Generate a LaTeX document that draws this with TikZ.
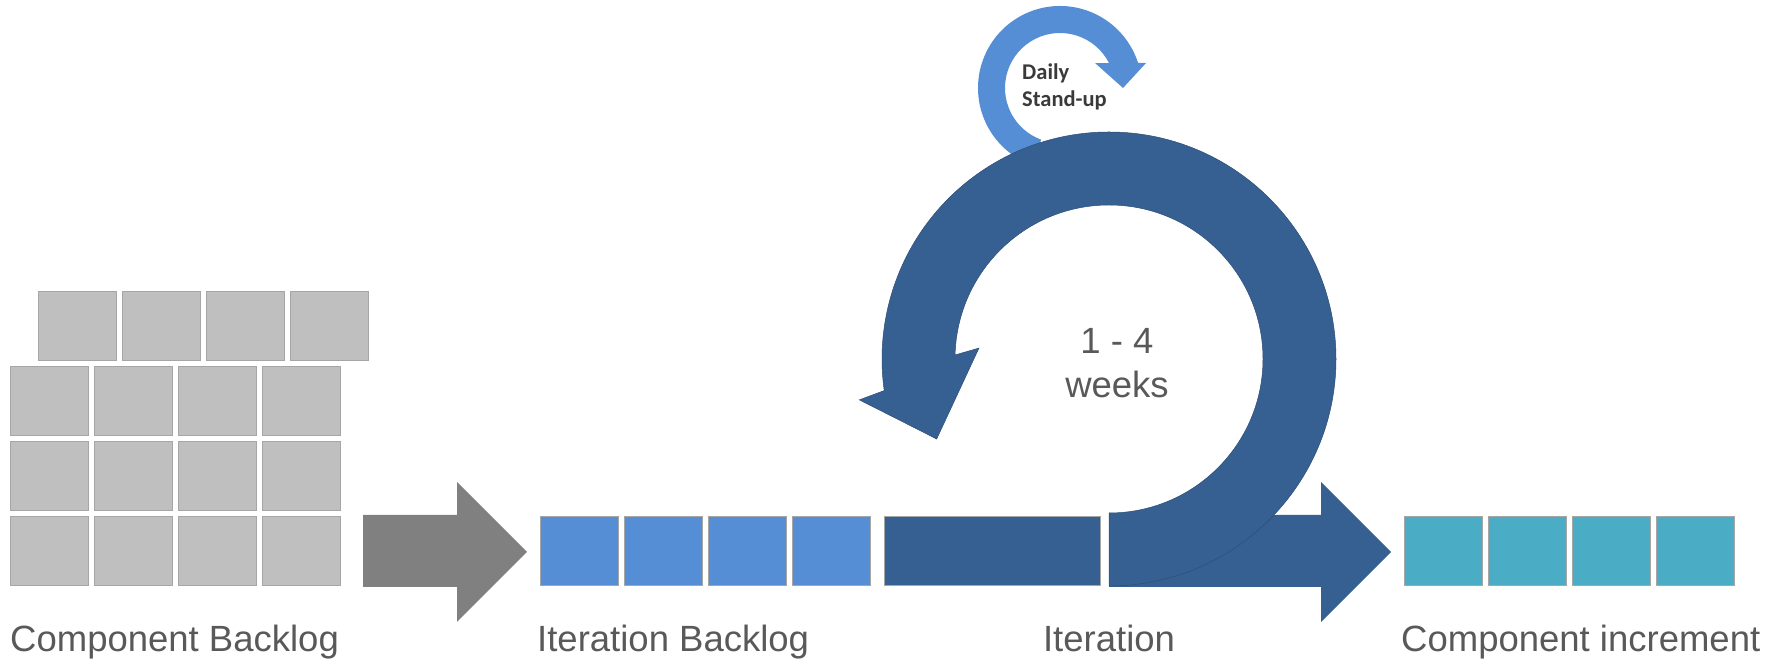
\documentclass[tikz,border=0pt]{standalone}
\usepackage{fontspec}
\setmainfont{Liberation Sans}
\newfontfamily\standupfont{Carlito}
\usetikzlibrary{calc}

\definecolor{cellgrey}{HTML}{BFBFBF}
\definecolor{cellline}{HTML}{A6A6A6}
\definecolor{shiftgrey}{HTML}{808080}
\definecolor{backlogblue}{HTML}{558ED5}
\definecolor{sprintblue}{HTML}{376092}
\definecolor{doneteal}{HTML}{4BACC6}
\definecolor{textgrey}{HTML}{595959}
\definecolor{standupgrey}{HTML}{3A3A3A}

\begin{document}
\begin{tikzpicture}[
    x=1pt, y=1pt,
    cell/.style={draw=cellline, line width=0.8pt, inner sep=0pt,
      minimum width=78pt, minimum height=69pt, anchor=south west},
    caption/.style={text=textgrey, inner sep=0pt,
      font=\fontsize{36.5}{44}\selectfont},
    standup/.style={text=standupgrey, inner sep=0pt, anchor=base west,
      font=\standupfont\bfseries\fontsize{22.5}{27}\selectfont}
  ]
  \useasboundingbox (0,0) rectangle (1789,660);
  \coordinate (loop) at (1109,301);
  \coordinate (daily) at (1060,572);

  \foreach \c in {1,...,4} {
    \node (cb0\c) [cell,fill=cellgrey] at ({38+84*(\c-1)},299) {};
    \foreach \r/\y in {1/224,2/149,3/74}
      \node (cb\r\c) [cell,fill=cellgrey] at ({10+84*(\c-1)},\y) {};
    \node (ib\c) [cell,fill=backlogblue] at ({540+84*(\c-1)},74) {};
    \node (ci\c) [cell,fill=doneteal] at ({1404+84*(\c-1)},74) {};
  }
  \node (it) [cell,fill=sprintblue,minimum width=216pt] at (884,74) {};

  \fill[shiftgrey] (363,73) -- (457,73) -- (457,38) -- (527,108)
    -- (457,178) -- (457,145) -- (363,145) -- cycle;
  \fill[sprintblue] (1109,73) -- (1321,73) -- (1321,38) -- (1391,108)
    -- (1321,178) -- (1321,145) -- (1109,145) -- cycle;

  \fill[backlogblue] ($(daily)+(250:82)$)
    arc[start angle=250, end angle=17.8, radius=82pt]
    -- ($(daily)+(16.2:89.6)$) -- ($(daily)+(0:63)$) -- ($(daily)+(35.5:43)$)
    -- ($(daily)+(27:55)$)
    arc[start angle=27, end angle=250, radius=55pt] -- cycle;

  \filldraw[fill=sprintblue, draw=sprintblue!80!black, line width=0.5pt]
    ($(loop)+(-90:227)$) arc[start angle=-90, end angle=188, radius=227pt]
    -- ($(loop)+(189.3:253)$) -- ($(loop)+(204.9:190)$) -- ($(loop)+(175.2:130.5)$)
    -- ($(loop)+(178.5:154)$)
    arc[start angle=178.5, end angle=-90, radius=154pt] -- cycle;

  \node (dailylbl) [standup] at (1022,580) {Daily};
  \node (standuplbl) [standup] at (1022,553) {Stand-up};
  \node (span) [caption,anchor=base] at (1117,306) {1 - 4};
  \node (weeks) [caption,anchor=base] at (1117,262) {weeks};

  \node (cblbl) [caption,anchor=base west] at (10,8) {Component Backlog};
  \node (iblbl) [caption,anchor=base west] at (537,8) {Iteration Backlog};
  \node (itlbl) [caption,anchor=base] at (1109,8) {Iteration};
  \node (cilbl) [caption,anchor=base west] at (1401,8) {Component increment};
\end{tikzpicture}
\end{document}
